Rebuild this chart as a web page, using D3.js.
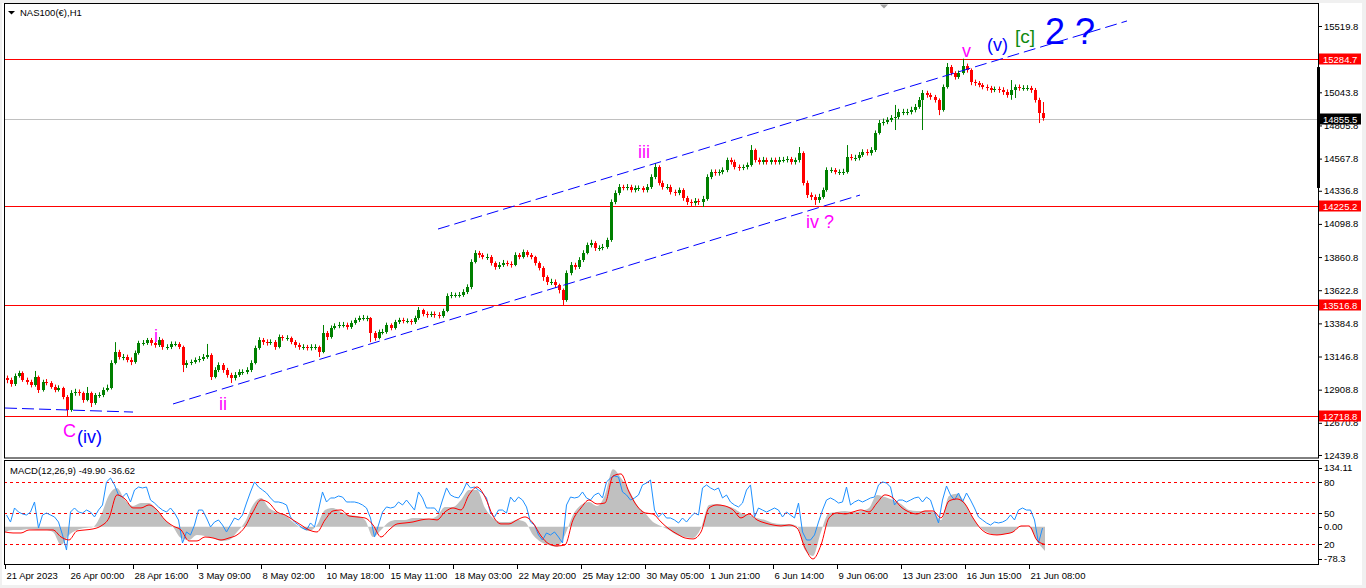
<!DOCTYPE html>
<html>
<head>
<meta charset="utf-8">
<script src="https://cdn.jsdelivr.net/npm/d3@7"></script>
<style>
html, body { margin: 0; padding: 0; background: #f0f0f0; overflow: hidden; }
svg { display: block; }
</style>
</head>
<body>
<svg id="chart" width="1366" height="588"></svg>
<script>
// 4-hour candles, 21 Apr 2023 .. 21 Jun 2023
const firstOpen = 12990;
const closes = [
  12978,12949,13007,13028,12978,12964,12942,13000,12906,12964,
  12957,12928,12906,12921,12856,12763,12885,12892,12885,12835,
  12885,12813,12870,12870,12906,12921,13100,13179,13143,13143,
  13122,13107,13172,13244,13244,13265,13244,13229,13265,13215,
  13215,13237,13237,13215,13086,13100,13107,13122,13129,13143,
  13158,13000,13050,13086,13050,13014,12992,13014,13036,13036,
  13050,13100,13208,13265,13251,13244,13251,13215,13287,13280,
  13280,13251,13229,13215,13215,13208,13215,13215,13179,13316,
  13287,13352,13366,13373,13373,13359,13387,13409,13423,13423,
  13423,13316,13280,13323,13323,13373,13352,13395,13409,13402,
  13402,13395,13423,13481,13452,13445,13452,13445,13438,13474,
  13581,13588,13588,13588,13610,13646,13825,13890,13876,13861,
  13861,13818,13789,13804,13818,13811,13804,13876,13861,13897,
  13876,13861,13818,13782,13718,13682,13682,13660,13624,13553,
  13746,13804,13789,13840,13890,13947,13962,13926,13926,13933,
  13983,14256,14321,14364,14357,14364,14342,14357,14357,14342,
  14364,14436,14507,14393,14364,14364,14328,14321,14342,14285,
  14256,14249,14263,14256,14278,14436,14472,14464,14472,14486,
  14558,14543,14507,14500,14507,14522,14630,14558,14543,14558,
  14543,14558,14543,14558,14558,14565,14543,14558,14608,14393,
  14306,14292,14271,14292,14342,14486,14486,14472,14472,14472,
  14579,14572,14572,14594,14615,14608,14630,14752,14823,14831,
  14845,14859,14866,14902,14902,14902,14917,14938,14989,15039,
  15024,15010,14989,14917,15082,15225,15182,15154,15182,15233,
  15204,15118,15111,15096,15082,15075,15060,15068,15060,15046,
  15024,15060,15082,15075,15075,15075,15060,14989,14895,14856
];
const highs = [
  13010,12995,13025,13045,13040,12995,12980,13043,13010,12980,
  12985,12970,12945,12940,12930,12870,12905,12915,12910,12895,
  12928,12895,12885,12890,12925,12945,13120,13250,13195,13165,
  13160,13140,13190,13260,13265,13280,13280,13260,13287,13275,
  13235,13255,13255,13250,13225,13120,13125,13140,13150,13165,
  13237,13170,13070,13105,13100,13065,13030,13035,13055,13055,
  13070,13120,13225,13285,13280,13270,13270,13265,13305,13300,
  13300,13290,13265,13245,13235,13230,13235,13235,13225,13373,
  13330,13370,13385,13395,13395,13390,13405,13425,13440,13445,
  13440,13430,13330,13340,13345,13390,13385,13410,13425,13425,
  13420,13415,13440,13502,13490,13470,13470,13470,13465,13490,
  13600,13610,13605,13610,13630,13665,13845,13910,13905,13890,
  13885,13875,13830,13825,13840,13835,13830,13895,13890,13915,
  13910,13890,13870,13830,13795,13730,13705,13700,13670,13635,
  13765,13825,13820,13860,13910,13965,13985,13975,13945,13955,
  14000,14275,14340,14385,14380,14385,14380,14375,14375,14370,
  14385,14455,14536,14520,14410,14385,14380,14345,14360,14355,
  14300,14275,14285,14280,14300,14455,14490,14490,14490,14505,
  14575,14575,14560,14525,14525,14540,14665,14640,14575,14580,
  14575,14575,14575,14580,14580,14585,14580,14575,14651,14620,
  14410,14325,14310,14315,14360,14505,14505,14500,14490,14495,
  14665,14600,14595,14615,14635,14635,14650,14770,14845,14855,
  14865,14880,14953,14925,14925,14925,14940,14960,15010,15060,
  15055,15040,15025,15000,15100,15254,15240,15195,15200,15285,
  15250,15215,15135,15125,15110,15100,15090,15085,15085,15080,
  15065,15132,15100,15100,15095,15095,15090,15075,15005,14974
];
const lows = [
  12955,12930,12935,12995,12965,12945,12925,12930,12885,12895,
  12940,12915,12890,12895,12840,12720,12750,12865,12865,12815,
  12825,12784,12800,12850,12855,12895,12910,13090,13125,13120,
  13105,13085,13095,13160,13225,13230,13225,13210,13215,13195,
  13195,13200,13220,13200,13035,13065,13085,13095,13105,13115,
  13130,12978,12990,13035,13030,12995,12957,12975,13000,13015,
  13020,13035,13090,13195,13230,13225,13230,13195,13205,13260,
  13260,13235,13210,13195,13195,13190,13190,13195,13143,13170,
  13265,13275,13340,13350,13355,13340,13345,13375,13395,13405,
  13400,13250,13260,13270,13305,13310,13335,13340,13380,13385,
  13385,13375,13380,13410,13435,13425,13430,13425,13420,13425,
  13465,13565,13570,13570,13575,13595,13630,13815,13855,13845,
  13840,13800,13770,13775,13790,13795,13785,13795,13845,13850,
  13860,13845,13800,13765,13690,13660,13660,13640,13600,13517,
  13540,13730,13770,13775,13825,13880,13930,13905,13905,13910,
  13920,13970,14240,14305,14340,14340,14325,14325,14335,14325,
  14325,14350,14420,14375,14345,14345,14310,14300,14305,14265,
  14235,14225,14230,14235,14220,14265,14420,14445,14445,14455,
  14470,14525,14490,14480,14485,14490,14510,14540,14525,14525,
  14525,14525,14525,14525,14540,14540,14525,14525,14540,14375,
  14285,14270,14235,14250,14280,14330,14465,14455,14450,14450,
  14460,14555,14550,14555,14580,14590,14590,14615,14740,14805,
  14815,14830,14773,14850,14880,14880,14885,14900,14925,14773,
  15005,14990,14970,14880,14905,15070,15165,15135,15140,15170,
  15185,15095,15090,15080,15065,15055,15040,15045,15040,15025,
  15005,14990,15003,15055,15055,15055,15040,14970,14823,14840
];

// MACD(12,26,9), one value every 8 hours
const macdMain = [
  -10.9,-6.8,-6.8,-4.7,-6.8,-6.8,-10.9,-37.7,-17.1,-6.8,
  -2.7,-0.6,24.1,65.4,79.6,54.9,42.6,48.8,48.8,34.4,
  13.8,-0.6,-23.3,-27.4,-17.1,-19.1,-23.3,-29.4,-27.4,-10.9,
  9.7,44.7,59.0,38.5,30.3,24.1,9.7,-2.7,-8.8,3.5,
  34.4,38.5,30.3,24.1,22.0,13.8,-21.2,-6.8,9.7,13.8,
  13.8,17.9,17.9,15.8,22.0,40.5,40.5,54.9,75.6,75.6,
  38.5,17.9,9.7,9.7,13.8,9.7,-17.1,-31.5,-37.7,-41.8,
  -17.1,24.1,44.7,50.8,42.6,65.4,118.0,100.2,75.6,44.7,
  28.2,9.7,1.4,-6.8,-17.1,-21.2,-23.3,-2.7,44.7,46.7,
  42.6,38.5,28.2,24.1,17.9,13.8,7.6,5.6,5.6,1.4,
  -48.0,-60.3,-10.9,28.2,30.3,32.3,30.3,32.3,38.5,65.4,
  61.1,54.9,46.7,34.4,32.3,32.3,30.3,13.8,63.2,67.6,
  48.8,17.9,-2.7,-13.0,-17.1,-15.0,-10.9,1.4,-0.6,-30.0,
  -49.9
];
const macdSignal = [
  -10.9,-13.0,-13.0,-6.8,-6.8,-6.8,-6.8,-21.2,-27.4,-8.8,
  -6.8,-4.7,1.4,17.9,65.4,57.0,38.5,38.5,44.7,34.4,
  13.8,1.4,-6.8,-29.4,-29.4,-21.2,-23.3,-27.4,-23.3,-17.1,
  -0.6,30.3,54.9,48.8,30.3,24.1,13.8,3.5,-6.8,-10.9,
  13.8,32.3,34.4,22.0,20.0,17.9,3.5,-21.2,-6.8,5.6,
  7.6,9.7,13.8,15.8,13.8,30.3,38.5,34.4,65.4,81.7,
  61.1,22.0,5.6,5.6,13.8,20.0,7.6,-19.1,-35.6,-39.7,
  -37.7,13.8,38.5,54.9,46.7,48.8,104.3,108.5,71.5,42.6,
  28.2,26.1,9.7,-4.7,-15.0,-23.3,-25.3,-10.9,38.5,44.7,
  42.6,34.4,17.9,26.1,13.8,7.6,3.5,1.4,3.5,-2.7,
  -43.8,-66.5,-37.7,17.9,28.2,26.1,30.3,34.4,30.3,48.8,
  65.4,59.0,40.5,30.3,26.1,32.3,32.3,17.9,52.9,57.0,
  46.7,17.9,-4.7,-15.0,-17.1,-15.0,-10.9,1.4,1.4,-28.0,
  -36.6
];
// oscillator drawn on the 0..100 levels, one value per candle
const oscValues = [
  48.1,41.3,54.9,51.0,49.1,48.1,51.0,60.7,35.5,48.1,
  50.0,48.1,46.2,41.3,28.8,14.2,51.0,54.9,51.0,50.0,
  52.9,51.0,46.2,52.9,57.8,80.1,83.9,77.2,67.5,65.5,
  69.4,60.7,72.3,75.2,74.3,75.2,62.6,59.7,55.9,52.9,
  51.0,54.9,50.0,43.3,21.0,31.7,28.8,38.4,52.9,52.9,
  45.2,36.5,41.3,43.3,38.4,31.7,38.4,45.2,43.3,48.1,
  59.7,70.4,80.1,75.2,72.3,69.4,64.6,60.7,60.7,59.7,
  57.8,46.2,41.3,38.4,35.5,33.6,40.4,36.5,52.9,70.4,
  60.7,64.6,64.6,66.5,65.5,60.7,60.7,60.7,59.7,57.8,
  54.9,45.2,26.8,38.4,51.0,55.9,54.9,55.9,60.7,57.8,
  62.6,57.8,52.9,70.4,64.6,54.9,54.9,54.9,50.0,62.6,
  74.3,67.5,65.5,64.6,70.4,79.1,74.3,75.2,72.3,69.4,
  64.6,50.0,46.2,52.9,52.9,50.0,65.5,60.7,65.5,62.6,
  55.9,41.3,38.4,28.8,23.9,30.7,28.8,31.7,26.8,21.0,
  57.8,65.5,64.6,65.5,70.4,64.6,62.6,67.5,69.4,64.6,
  80.1,83.9,85.9,84.9,70.4,67.5,62.6,64.6,67.5,77.2,
  79.1,82.0,52.9,46.2,50.0,45.2,45.2,43.3,40.4,45.2,
  41.3,46.2,50.0,48.1,74.3,77.2,74.3,72.3,74.3,64.6,
  67.5,60.7,57.8,55.9,59.7,72.3,77.2,46.2,54.9,52.9,
  51.0,52.9,54.9,52.9,46.2,51.0,48.1,45.2,59.7,31.7,
  23.9,23.9,28.8,41.3,52.9,62.6,64.6,62.6,59.7,60.7,
  75.2,57.8,60.7,62.6,60.7,62.6,64.6,65.5,77.2,80.1,
  79.1,75.2,57.8,62.6,62.6,60.7,62.6,64.6,65.5,60.7,
  65.5,62.6,51.0,40.4,62.6,76.2,67.5,62.6,69.4,60.7,
  69.4,62.6,54.9,46.2,43.3,40.4,38.4,41.3,40.4,41.3,
  43.3,48.1,43.3,52.9,54.9,52.9,52.9,43.3,21.0,35.5
];
const oscLevels = [80, 50, 20];

const priceTicks = [12439.8, 12670.8, 12908.8, 13146.8, 13384.8, 13622.8, 13860.8,
  14098.8, 14336.8, 14567.8, 14805.8, 15043.8, 15281.8, 15519.8];
const timeTicks = [0, 64, 128, 192, 256, 320, 384, 448, 512, 576, 640, 704, 768, 832, 896, 960, 1024];
const timeLabels = ['21 Apr 2023', '26 Apr 00:00', '28 Apr 16:00', '3 May 09:00', '8 May 02:00',
  '10 May 18:00', '15 May 11:00', '18 May 03:00', '22 May 20:00', '25 May 12:00', '30 May 05:00',
  '1 Jun 21:00', '6 Jun 14:00', '9 Jun 06:00', '13 Jun 23:00', '16 Jun 15:00', '21 Jun 08:00'];

const levelPrices = [15284.7, 14225.2, 13516.8, 12718.8];
const bidPrice = 14855.5;
const visibleRange = [14357, 15225];

// trend lines as [hour, price] end points
const trendLines = [
  [[0, 12777], [128, 12748]],
  [[168, 12806], [855, 14306]],
  [[433, 14062], [1122, 15556]]
];
const waveLabels = [
  { text: 'C', hour: 58, price: 12569, kind: 'minor' },
  { text: '(iv)', hour: 72, price: 12526, kind: 'inter' },
  { text: 'i', hour: 149, price: 13251, kind: 'minor' },
  { text: 'ii', hour: 214, price: 12763, kind: 'minor' },
  { text: 'iii', hour: 633, price: 14572, kind: 'minor' },
  { text: 'iv ?', hour: 801, price: 14069, kind: 'minor' },
  { text: 'v', hour: 957, price: 15297, kind: 'minor' },
  { text: '(v)', hour: 982, price: 15340, kind: 'inter' },
  { text: '[c]', hour: 1010, price: 15398, kind: 'bracket' },
  { text: '2', hour: 1040, price: 15391, kind: 'primary' },
  { text: '?', hour: 1070, price: 15391, kind: 'primary' }
];
const labelStyle = {
  minor: { fill: '#ff00ff', size: 18 },
  inter: { fill: '#0000ff', size: 18 },
  bracket: { fill: '#108a10', size: 19 },
  primary: { fill: '#0000ff', size: 36 }
};

const svg = d3.select('#chart');
const font = '"Liberation Sans", Arial, sans-serif';
const pane = { left: 4, right: 1318, top: 4, bottom: 458 };
const sub = { top: 461, bottom: 565 };

const x = d3.scaleLinear().domain([0, 1040]).range([5, 1045]);
const y = d3.scaleLinear().domain([12418.1, 15677.8]).range([pane.bottom, pane.top]);
const m = d3.scaleLinear().domain([-78.3, 134.11]).range([564.7, 461.5]);
const lv = d3.scaleLinear().domain([0, 100]).range([564.7, 461.4]);

svg.append('rect').attr('x', 2).attr('y', 3).attr('width', 1360).attr('height', 582).attr('fill', '#fff');

svg.append('clipPath').attr('id', 'mainClip').append('rect')
  .attr('x', pane.left + 1).attr('y', pane.top + 1)
  .attr('width', pane.right - pane.left - 1).attr('height', pane.bottom - pane.top - 1);
svg.append('clipPath').attr('id', 'subClip').append('rect')
  .attr('x', pane.left + 1).attr('y', sub.top + 1)
  .attr('width', pane.right - pane.left - 1).attr('height', sub.bottom - sub.top - 1);

const main = svg.append('g').attr('clip-path', 'url(#mainClip)');

// horizontal levels
main.selectAll('line.level').data(levelPrices).join('line')
  .attr('x1', pane.left).attr('x2', pane.right)
  .attr('y1', d => Math.round(y(d)) + 0.5).attr('y2', d => Math.round(y(d)) + 0.5)
  .attr('stroke', '#ff0000').attr('stroke-width', 1);
main.append('line')
  .attr('x1', pane.left).attr('x2', pane.right)
  .attr('y1', Math.round(y(bidPrice)) + 0.5).attr('y2', Math.round(y(bidPrice)) + 0.5)
  .attr('stroke', '#c0c0c0');

// candles
const opens = closes.map((c, i) => i ? closes[i - 1] : firstOpen);
const candles = closes.map((c, i) => ({ i, o: opens[i], c, h: highs[i], l: lows[i] }));
const colorOf = d => d.c >= d.o ? '#008000' : '#ff0000';
const cx = d => Math.round(x(d.i * 4 + 1.5)) + 0.5;

main.selectAll('line.wick').data(candles).join('line')
  .attr('x1', cx).attr('x2', cx)
  .attr('y1', d => y(d.h)).attr('y2', d => y(d.l))
  .attr('stroke', colorOf);
main.selectAll('rect.body').data(candles).join('rect')
  .attr('x', d => cx(d) - 1.5).attr('width', 3)
  .attr('y', d => y(Math.max(d.o, d.c)))
  .attr('height', d => Math.max(1, Math.abs(y(d.o) - y(d.c))))
  .attr('fill', colorOf)
  .attr('shape-rendering', 'crispEdges');

// trend lines
main.selectAll('line.trend').data(trendLines).join('line')
  .attr('x1', d => x(d[0][0])).attr('y1', d => y(d[0][1]))
  .attr('x2', d => x(d[1][0])).attr('y2', d => y(d[1][1]))
  .attr('stroke', '#0000ff').attr('stroke-width', 1)
  .attr('stroke-dasharray', '12,5');

// wave labels
main.selectAll('text.wave').data(waveLabels).join('text')
  .attr('x', d => x(d.hour)).attr('y', d => y(d.price))
  .attr('font-family', font)
  .attr('font-size', d => labelStyle[d.kind].size)
  .attr('fill', d => labelStyle[d.kind].fill)
  .text(d => d.text);

// price axis
const gy = svg.append('g').attr('transform', `translate(${pane.right},0)`)
  .call(d3.axisRight(y).tickValues(priceTicks).tickSize(4).tickPadding(2).tickFormat(d3.format('.1f')));
gy.select('.domain').remove();
gy.selectAll('text').attr('font-family', font).attr('font-size', 9.5).attr('fill', '#000');

const tags = levelPrices.map(p => ({ p, bg: '#ff0000' })).concat([{ p: bidPrice, bg: '#000' }]);
const tag = svg.selectAll('g.tag').data(tags).join('g')
  .attr('transform', d => `translate(${pane.right + 1},${Math.round(y(d.p))})`);
tag.append('rect').attr('x', 0).attr('y', -5.5).attr('width', 42).attr('height', 11).attr('fill', d => d.bg);
tag.append('text').attr('x', 4).attr('y', 3.5)
  .attr('font-family', font).attr('font-size', 9.5).attr('fill', '#fff')
  .text(d => d3.format('.1f')(d.p));

// sub window: MACD
const subG = svg.append('g').attr('clip-path', 'url(#subClip)');
const hour8 = (d, j) => x(j * 8);
subG.append('path').datum(macdMain)
  .attr('d', d3.area().x(hour8).y0(m(0)).y1(d => m(d)).curve(d3.curveMonotoneX))
  .attr('fill', '#c0c0c0');
subG.selectAll('line.lvl').data(oscLevels).join('line')
  .attr('x1', pane.left).attr('x2', pane.right)
  .attr('y1', d => Math.round(lv(d)) + 0.5).attr('y2', d => Math.round(lv(d)) + 0.5)
  .attr('stroke', '#ff0000').attr('stroke-dasharray', '3,3');
subG.append('path').datum(oscValues)
  .attr('d', d3.line().x((d, i) => x(i * 4 + 1.5)).y(d => lv(d)))
  .attr('fill', 'none').attr('stroke', '#1e90ff').attr('stroke-width', 1);
subG.append('path').datum(macdSignal)
  .attr('d', d3.line().x(hour8).y(d => m(d)).curve(d3.curveMonotoneX))
  .attr('fill', 'none').attr('stroke', '#ff0000').attr('stroke-width', 1);

// sub window scale labels
const subTicks = [
  { t: '134.11', yy: m(134.11), dy: 9.5 },
  { t: '80', yy: lv(80), dy: 3.5 },
  { t: '50', yy: lv(50), dy: 3.5 },
  { t: '0.00', yy: m(0), dy: 3.5 },
  { t: '20', yy: lv(20), dy: 3.5 },
  { t: '-78.3', yy: m(-78.3), dy: -2.5 }
];
svg.selectAll('line.stick').data(subTicks).join('line')
  .attr('x1', pane.right).attr('x2', pane.right + 4)
  .attr('y1', d => Math.round(d.yy + d.dy - 3.5) + 0.5).attr('y2', d => Math.round(d.yy + d.dy - 3.5) + 0.5)
  .attr('stroke', '#000');
svg.selectAll('text.stick').data(subTicks).join('text')
  .attr('x', pane.right + 6).attr('y', d => d.yy + d.dy)
  .attr('font-family', font).attr('font-size', 9.5).attr('fill', '#000')
  .text(d => d.t);

// time axis
const gx = svg.append('g').attr('transform', `translate(0,${sub.bottom})`)
  .call(d3.axisBottom(x).tickValues(timeTicks).tickSize(4).tickPadding(3).tickFormat((d, i) => timeLabels[i]));
gx.select('.domain').remove();
gx.selectAll('text').attr('font-family', font).attr('font-size', 9.5).attr('fill', '#000')
  .attr('text-anchor', 'start').attr('dx', 1);

// frames
svg.append('rect').attr('x', pane.left + 0.5).attr('y', pane.top - 0.5)
  .attr('width', pane.right - pane.left).attr('height', pane.bottom - pane.top + 0.5)
  .attr('fill', 'none').attr('stroke', '#000');
svg.append('rect').attr('x', pane.left + 0.5).attr('y', sub.top - 0.5)
  .attr('width', pane.right - pane.left).attr('height', sub.bottom - sub.top)
  .attr('fill', 'none').attr('stroke', '#000');

// chart shift marker
svg.append('path').attr('d', 'M880,4.5 L888,4.5 L884,8.5 Z').attr('fill', '#a0a0a0');

// titles
svg.append('path').attr('d', 'M8,11 L15,11 L11.5,14.5 Z').attr('fill', '#000');
svg.append('text').attr('x', 20).attr('y', 16)
  .attr('font-family', font).attr('font-size', 9.5).attr('fill', '#000')
  .text('NAS100(€),H1');
svg.append('text').attr('x', 10).attr('y', 474)
  .attr('font-family', font).attr('font-size', 9.5).attr('fill', '#000')
  .text('MACD(12,26,9) -49.90 -36.62');

// visible price range bar on the scale, drawn last
svg.append('rect').attr('x', pane.right - 1).attr('width', 3)
  .attr('y', y(visibleRange[1])).attr('height', y(visibleRange[0]) - y(visibleRange[1]))
  .attr('fill', '#000');
</script>
</body>
</html>
